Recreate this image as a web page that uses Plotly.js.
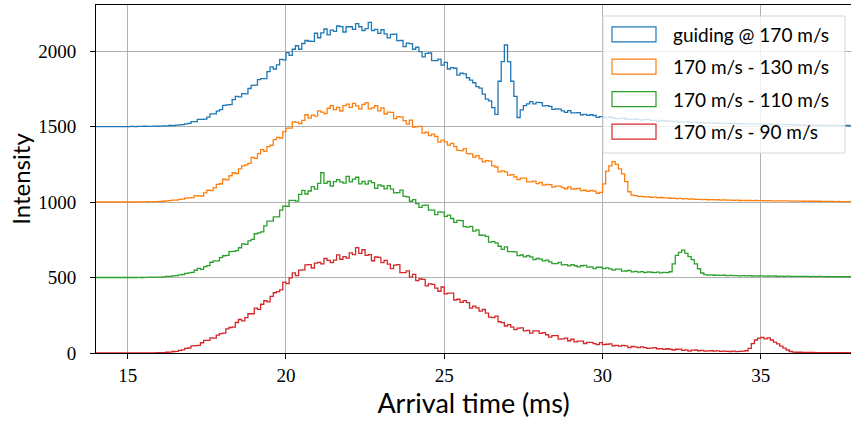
<!DOCTYPE html>
<html><head><meta charset="utf-8">
<script src="https://cdn.plot.ly/plotly-3.0.1.min.js"></script>
<style>html,body{margin:0;padding:0;background:#fff}#chart{width:851px;height:421px}</style>
</head><body><div id="chart"></div>
<script>
// Histogram bins: start time (ms) and bin width (ms)
const timeStart = 14.0;
const binWidth = 0.1;

const seriesNames = ['guiding @ 170 m/s', '170 m/s - 130 m/s', '170 m/s - 110 m/s', '170 m/s - 90 m/s'];
const seriesOffsets = [1500, 1000, 500, 0];
const xTicks = [15, 20, 25, 30, 35];
const yTicks = [0, 500, 1000, 1500, 2000];

// counts per 0.1 ms bin, from 14.0 ms to 38.0 ms (before vertical offset)
const guiding170 = [
0,0,0,0,0,0,0,0,0,0,
0,1,0,1,1,2,1,1,3,2,
3,4,5,7,6,9,11,13,18,21,
33,32,48,48,49,62,84,84,102,112,
140,143,145,178,200,196,218,216,252,272,
274,311,317,318,364,395,381,409,445,441,
489,472,512,535,512,550,570,565,564,618,
588,620,646,607,639,630,666,662,626,661,
661,644,681,661,636,648,690,636,643,617,
641,614,587,610,612,569,570,529,553,549,
512,525,496,462,484,487,437,437,447,407,
425,381,390,386,341,353,349,323,307,290,
265,255,215,182,170,125,80,300,430,540,
430,300,200,60,110,138,150,165,150,160,
158,137,138,133,114,117,115,104,94,106,
90,91,92,78,80,74,78,73,61,66,
63,58,63,58,53,53,56,50,49,47,
50,46,42,46,47,41,41,35,40,39,
35,36,33,34,31,32,29,30,28,28,
25,26,24,24,22,23,21,22,20,21,
19,20,18,19,17,18,17,17,16,16,
15,16,14,15,13,14,12,13,12,12,
11,12,10,11,10,10,9,10,8,9,
8,8,7,8,7,7,6,7,5,6,
5];
const v170to130 = [
0,0,0,0,0,0,0,0,0,0,
0,0,1,0,1,1,2,1,2,3,
4,5,8,9,13,13,18,19,26,27,
29,42,41,40,61,78,75,94,117,121,
151,147,174,194,189,219,239,246,256,296,
289,320,347,335,367,376,413,428,424,466,
489,490,531,527,520,541,578,556,575,569,
604,595,585,621,638,612,627,603,639,649,
627,653,637,615,647,659,617,624,639,604,
624,583,595,594,552,566,564,539,516,543,
497,500,501,456,462,440,450,434,397,410,
398,377,389,367,342,341,354,320,319,298,
307,287,266,274,271,240,232,200,206,200,
178,181,166,149,158,158,134,134,138,122,
130,112,116,115,99,105,105,96,88,101,
85,88,90,75,78,71,77,72,58,64,
120,205,240,268,250,220,186,135,68,46,
42,38,38,34,36,31,33,29,30,27,
28,25,26,23,24,21,22,19,21,18,
18,16,17,15,16,14,15,13,14,12,
12,11,12,10,11,10,10,9,10,9,
9,8,9,7,8,7,8,7,7,6,
6,6,6,5,6,5,5,5,5,4,
4,4,4,3,4,3,3,3,3,2,
2];
const v170to110 = [
0,0,0,0,0,0,0,0,0,0,
0,0,0,1,0,1,1,2,1,2,
3,4,7,7,11,12,18,20,28,31,
34,48,60,54,72,79,101,110,110,132,
144,146,171,173,178,197,223,220,243,253,
290,296,302,342,374,374,402,402,446,472,
472,511,511,506,551,577,553,573,602,585,
623,694,623,636,605,635,648,634,625,670,
633,652,664,620,636,618,640,628,590,613,
606,587,609,586,560,562,579,537,534,505,
516,489,464,478,479,446,447,416,435,433,
405,413,391,365,378,377,337,334,339,307,
315,280,281,273,235,238,230,207,186,203,
171,172,170,145,149,137,144,137,118,126,
122,110,115,104,92,92,100,84,85,77,
85,78,71,78,80,69,70,59,68,68,
59,64,57,49,55,56,42,43,47,37,
41,36,39,33,37,35,32,36,31,34,
32,38,90,146,166,182,160,138,118,90,
58,30,19,16,17,15,16,14,15,13,
14,12,13,11,12,11,12,10,11,10,
11,9,10,9,10,8,9,8,9,8,
8,7,8,7,7,6,7,6,7,6,
6,5,6,5,6,5,5,5,5,4,
5];
const v170to90 = [
0,0,0,0,0,0,0,0,0,0,
0,0,0,0,1,0,1,1,1,2,
2,3,5,6,10,11,18,21,31,33,
47,49,50,68,83,84,100,99,119,128,
131,160,169,171,202,222,213,234,260,260,
297,289,323,346,338,375,399,407,418,470,
459,497,531,513,549,550,584,586,563,595,
600,590,626,613,598,615,650,621,638,628,
663,651,698,660,684,647,651,611,636,633,
598,614,589,559,582,585,533,533,544,502,
521,479,490,488,445,458,455,430,409,437,
392,396,397,351,356,335,347,333,297,311,
299,277,288,264,237,234,244,207,201,179,
188,171,155,165,167,147,150,132,147,147,
130,135,121,105,115,115,92,93,98,81,
91,74,79,79,63,70,70,62,55,69,
55,58,60,48,51,46,51,47,36,43,
41,35,41,35,30,32,36,28,29,24,
28,25,20,25,26,18,21,13,19,20,
15,17,13,14,15,12,14,11,13,11,
10,12,9,11,12,15,30,62,86,98,
104,94,100,86,72,60,46,32,20,10,
6,5,5,4,4,4,4,3,3,3,
3,3,3,3,3,3,3,3,3,3,
3];

const seriesValues = [guiding170, v170to130, v170to110, v170to90];
const colors = ['#1f77b4', '#ff7f0e', '#2ca02c', '#d62728'];

const traces = seriesValues.map((vals, i) => ({
  type: 'scatter', mode: 'lines',
  x0: timeStart, dx: binWidth,
  y: vals.map(v => v + seriesOffsets[i]),
  name: seriesNames[i],
  line: {shape: 'hv', color: colors[i], width: 1.3},
  showlegend: false, hoverinfo: 'skip'
}));

// custom legend (outlined patches like the reference)
const plotL = 96, plotT = 5, plotW = 755, plotH = 348;
const px = x => (x - plotL) / plotW;
const py = y => (plotT + plotH - y) / plotH;
const shapes = [{
  type: 'rect', xref: 'paper', yref: 'paper',
  x0: px(603), x1: px(845), y0: py(153), y1: py(16),
  fillcolor: 'rgba(255,255,255,0.8)', line: {color: '#d6d6d6', width: 1}
}];
const annotations = [];
const rowY = [34.3, 66.7, 99.2, 131.6];
seriesNames.forEach((n, i) => {
  shapes.push({type: 'rect', xref: 'paper', yref: 'paper',
    x0: px(612), x1: px(656), y0: py(rowY[i] + 7.5), y1: py(rowY[i] - 7.5),
    fillcolor: 'rgba(0,0,0,0)', line: {color: colors[i], width: 1.2}});
  annotations.push({xref: 'paper', yref: 'paper', x: px(671), y: py(rowY[i]),
    xanchor: 'left', yanchor: 'middle', showarrow: false, text: n,
    font: {family: 'Lato', size: 19, color: '#000'}});
});

const layout = {
  width: 851, height: 421,
  margin: {l: plotL, r: 0, t: plotT, b: 421 - plotT - plotH},
  paper_bgcolor: '#fff', plot_bgcolor: '#fff',
  showlegend: false,
  xaxis: {
    range: [14.0, 37.85], tickvals: xTicks, mirror: true,
    showgrid: true, gridcolor: '#b0b0b0', gridwidth: 1,
    zeroline: false, showline: true, linecolor: '#000', linewidth: 1,
    ticks: 'outside', ticklen: 5, tickwidth: 1, tickcolor: '#000',
    tickfont: {family: 'Liberation Serif', size: 19, color: '#000'},
    title: {text: 'Arrival time (ms)', font: {family: 'Lato', size: 27, color: '#000'}, standoff: 5}
  },
  yaxis: {
    range: [0, 2305], tickvals: yTicks, ticklabelstandoff: 10,
    showgrid: true, gridcolor: '#b0b0b0', gridwidth: 1,
    zeroline: false, showline: true, linecolor: '#000', linewidth: 1,
    ticks: 'outside', ticklen: 5, tickwidth: 1, tickcolor: '#000',
    tickfont: {family: 'Liberation Serif', size: 19, color: '#000'},
    title: {text: 'Intensity', font: {family: 'Lato', size: 24, color: '#000'}, standoff: 0}
  },
  shapes: shapes,
  annotations: annotations
};

Plotly.newPlot('chart', traces, layout, {displayModeBar: false, staticPlot: true});
</script>
</body></html>
